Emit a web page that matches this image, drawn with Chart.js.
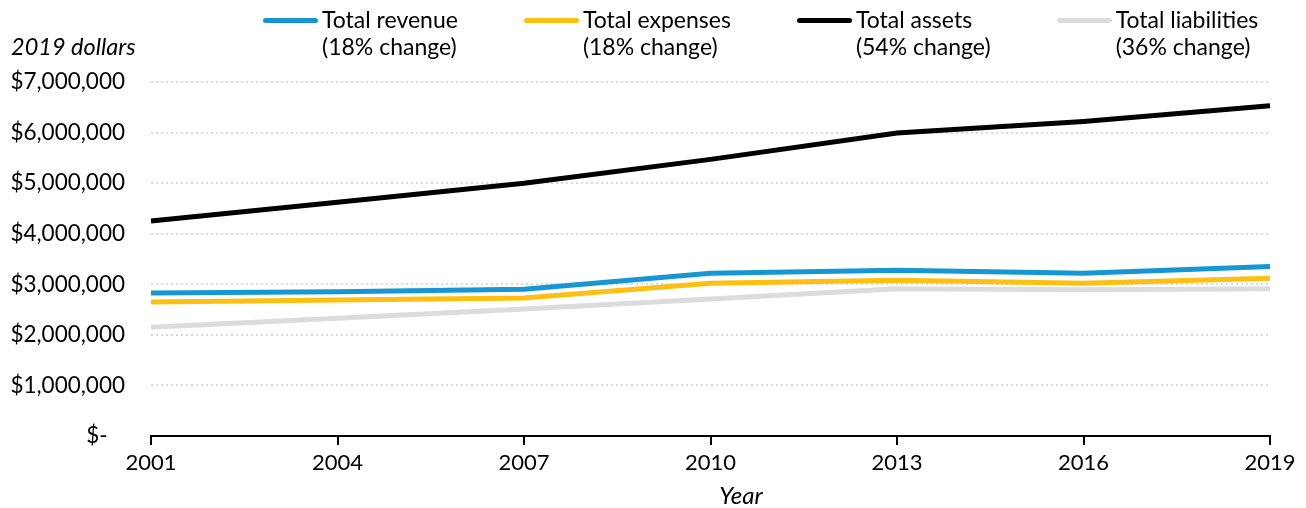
<!DOCTYPE html>
<html>
<head>
<meta charset="utf-8">
<script src="https://cdn.jsdelivr.net/npm/chart.js@4.4.1/dist/chart.umd.min.js"></script>
<style>
  html, body { margin: 0; padding: 0; background: #fff; }
  body { width: 1306px; height: 508px; position: relative; overflow: hidden; font-family: Lato, sans-serif; color: #000; }
  #wrap { position: absolute; left: 0; top: 0; width: 1306px; height: 508px; }
  #unit { position: absolute; left: 11px; top: 32px; font-size: 23.5px; font-style: italic; line-height: 28px; }
  #xtitle { position: absolute; left: 741px; top: 481px; transform: translateX(-50%); font-size: 24px; font-style: italic; line-height: 28px; }
  #legend { position: absolute; left: 263px; top: 6px; display: flex; gap: 66px; font-size: 23px; line-height: 27px; }
  .item { display: flex; align-items: flex-start; }
  .sw { width: 55px; height: 5px; border-radius: 3px; margin-top: 12px; margin-right: 4px; }
</style>
</head>
<body>
<div id="wrap"><canvas id="chart" width="1306" height="508"></canvas></div>
<div id="unit">2019 dollars</div>
<div id="xtitle">Year</div>
<div id="legend"></div>
<script>
// datos
const years = ['2001', '2004', '2007', '2010', '2013', '2016', '2019'];
const revenue     = [2830000, 2850000, 2900000, 3220000, 3280000, 3220000, 3350000];
const expenses    = [2650000, 2690000, 2730000, 3020000, 3080000, 3020000, 3120000];
const assets      = [4250000, 4620000, 5000000, 5470000, 5990000, 6220000, 6530000];
const liabilities = [2150000, 2330000, 2510000, 2710000, 2910000, 2890000, 2910000];
const seriesNames = ['Total revenue', 'Total expenses', 'Total assets', 'Total liabilities'];
const seriesNotes = ['(18% change)', '(18% change)', '(54% change)', '(36% change)'];
const colores = ['#1696d2', '#fdbf11', '#000000', '#dcdcdc'];

const datos = [revenue, expenses, assets, liabilities];

// leyenda en html (dos renglones)
const leyenda = document.getElementById('legend');
seriesNames.forEach((n, i) => {
    const d = document.createElement('div');
    d.className = 'item';
    d.innerHTML = `<div class="sw" style="background:${colores[i]}"></div><div>${n}<br>${seriesNotes[i]}</div>`;
    leyenda.appendChild(d);
});

function fmt(v) {
    if (v === 0) return '$-   ';
    return '$' + v.toLocaleString('en-US');
}

// el orden de dibujo: pasivos abajo, luego activos, gastos, ingresos
const dibujo = [3, 2, 1, 0];

new Chart(document.getElementById('chart'), {
    type: 'line',
    data: {
        labels: years,
        datasets: seriesNames.map((n, i) => ({
            label: n,
            data: datos[i],
            borderColor: colores[i],
            backgroundColor: colores[i],
            borderWidth: 5,
            pointRadius: 0,
            tension: 0,
            order: dibujo.indexOf(i) * -1 + 10
        }))
    },
    options: {
        responsive: false,
        animation: false,
        layout: { padding: { left: 0, right: 36, top: 82, bottom: 0 } },
        plugins: { legend: { display: false }, tooltip: { enabled: false } },
        scales: {
            x: {
                offset: false,
                grid: { display: true, drawOnChartArea: false, color: '#000', lineWidth: 2, tickLength: 9 },
                border: { display: true, color: '#000', width: 2 },
                ticks: { color: '#000', font: { family: 'Lato', size: 22 }, padding: 5, maxRotation: 0 },
                afterFit: (s) => { s.height = 72; }
            },
            y: {
                min: 0,
                max: 7000000,
                ticks: { stepSize: 1000000, color: '#000', font: { family: 'Lato', size: 22.5 }, padding: 26, callback: (v) => fmt(v) },
                grid: { color: '#d9d9d9', lineWidth: 2, drawTicks: false },
                border: { display: false, dash: [2, 3] },
                afterFit: (s) => { s.width = 151; }
            }
        }
    }
});
</script>
</body>
</html>
